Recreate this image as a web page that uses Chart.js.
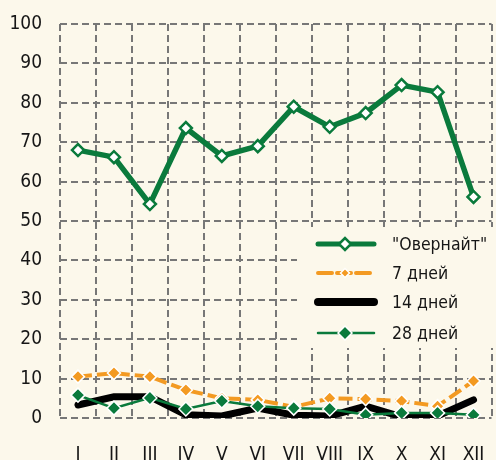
<!DOCTYPE html>
<html>
<head>
<meta charset="utf-8">
<script src="https://cdn.jsdelivr.net/npm/chart.js@4"></script>
<style>
    html, body { margin: 0; padding: 0; background: #fcf8eb; overflow: hidden; }
    #wrap { width: 500px; height: 460px; }
</style>
</head>
<body>
<div id="wrap"><canvas id="chart"></canvas></div>
<script>
const months = ['I', 'II', 'III', 'IV', 'V', 'VI', 'VII', 'VIII', 'IX', 'X', 'XI', 'XII'];
const overnight = [68.0, 66.2, 54.3, 73.6, 66.5, 69.0, 79.0, 73.9, 77.4, 84.5, 82.7, 56.1];
const days7 = [10.5, 11.4, 10.5, 7.1, 5.0, 4.6, 2.8, 5.0, 4.8, 4.3, 3.0, 9.4];
const days14 = [3.3, 5.4, 5.4, 0.8, 0.5, 2.5, 0.7, 0.5, 3.0, 0.3, 0.5, 4.6];
const days28 = [5.8, 2.5, 5.1, 2.3, 4.3, 3.0, 2.5, 2.3, 0.8, 1.3, 1.3, 0.8];
const seriesNames = ['"Овернайт"', '7 дней', '14 дней', '28 дней'];

const BG = '#fcf8eb';
const GREEN = '#0a7a3c';
const ORANGE = '#f39a22';
const FONT = '"DejaVu Sans Condensed", "Liberation Sans Narrow", sans-serif';

// legend drawn inside the plot, on its own patch of background
const insideLegend = {
    id: 'insideLegend',
    afterDraw(chart) {
        const ctx = chart.ctx;
        ctx.save();
        ctx.fillStyle = BG;
        ctx.fillRect(297, 227, 210, 121);
        const rows = [244, 273, 302, 333];
        const samples = [
            { width: 5, dash: [], radius: 6, pointBorder: 2.5 },
            { width: 4, dash: [14, 5], radius: 4.5, pointBorder: 1.5 },
            { width: 8, dash: [], radius: 0, pointBorder: 0 },
            { width: 2.5, dash: [], radius: 7, pointBorder: 1.5 }
        ];
        chart.data.datasets.forEach((ds, i) => {
            const y = rows[i];
            const s = samples[i];
            ctx.strokeStyle = ds.borderColor;
            ctx.lineWidth = s.width;
            ctx.lineCap = 'round';
            ctx.setLineDash(s.dash);
            ctx.beginPath();
            ctx.moveTo(318, y);
            ctx.lineTo(374, y);
            ctx.stroke();
            ctx.setLineDash([]);
            if (s.radius > 0) {
                ctx.fillStyle = ds.pointBackgroundColor;
                ctx.strokeStyle = ds.pointBorderColor;
                ctx.lineWidth = s.pointBorder;
                Chart.helpers.drawPoint(ctx, { pointStyle: 'rectRot', radius: s.radius, borderWidth: s.pointBorder }, 345, y);
            }
            ctx.fillStyle = '#161616';
            ctx.font = '17.5px ' + FONT;
            ctx.textBaseline = 'middle';
            ctx.textAlign = 'left';
            ctx.fillText(ds.label, 392, y + 1);
        });
        ctx.restore();
    }
};

const gridStyle = { color: '#777777', lineWidth: 2, drawTicks: false };

new Chart(document.getElementById('chart'), {
    type: 'line',
    data: {
        labels: months,
        datasets: [
            {
                label: seriesNames[0],
                data: overnight,
                borderColor: GREEN,
                borderWidth: 5.5,
                pointStyle: 'rectRot',
                pointRadius: 6,
                pointBackgroundColor: '#ffffff',
                pointBorderColor: GREEN,
                pointBorderWidth: 2.5,
                order: 0
            },
            {
                label: seriesNames[1],
                data: days7,
                borderColor: ORANGE,
                borderWidth: 4,
                borderDash: [14, 5],
                pointStyle: 'rectRot',
                pointRadius: 6.5,
                pointBackgroundColor: ORANGE,
                pointBorderColor: '#ffffff',
                pointBorderWidth: 1.5,
                order: 2
            },
            {
                label: seriesNames[2],
                data: days14,
                borderColor: '#000000',
                borderWidth: 7,
                borderCapStyle: 'round',
                pointRadius: 0,
                pointBackgroundColor: '#000000',
                pointBorderColor: '#000000',
                order: 3
            },
            {
                label: seriesNames[3],
                data: days28,
                borderColor: GREEN,
                borderWidth: 2.5,
                pointStyle: 'rectRot',
                pointRadius: 7,
                pointBackgroundColor: GREEN,
                pointBorderColor: '#ffffff',
                pointBorderWidth: 1.5,
                order: 1
            }
        ]
    },
    options: {
        responsive: true,
        maintainAspectRatio: false,
        animation: false,
        layout: { padding: { top: 24, right: 0, left: 0, bottom: 0 } },
        plugins: { legend: { display: false }, tooltip: { enabled: false } },
        scales: {
            x: {
                offset: true,
                grid: { ...gridStyle, offset: true },
                border: { display: false, dash: [7, 4] },
                ticks: { color: '#161616', font: { family: FONT, size: 19 }, padding: 26, maxRotation: 0, autoSkip: false },
                afterFit: scale => { scale.height = 42; scale.paddingLeft = 0; scale.paddingRight = 0; }
            },
            y: {
                min: 0,
                max: 100,
                grid: gridStyle,
                border: { display: false, dash: [7, 4] },
                ticks: { stepSize: 10, color: '#161616', font: { family: FONT, size: 19 }, padding: 18 },
                afterFit: scale => { scale.width = 60; scale.paddingTop = 0; scale.paddingBottom = 0; }
            }
        }
    },
    plugins: [insideLegend]
});
</script>
</body>
</html>
